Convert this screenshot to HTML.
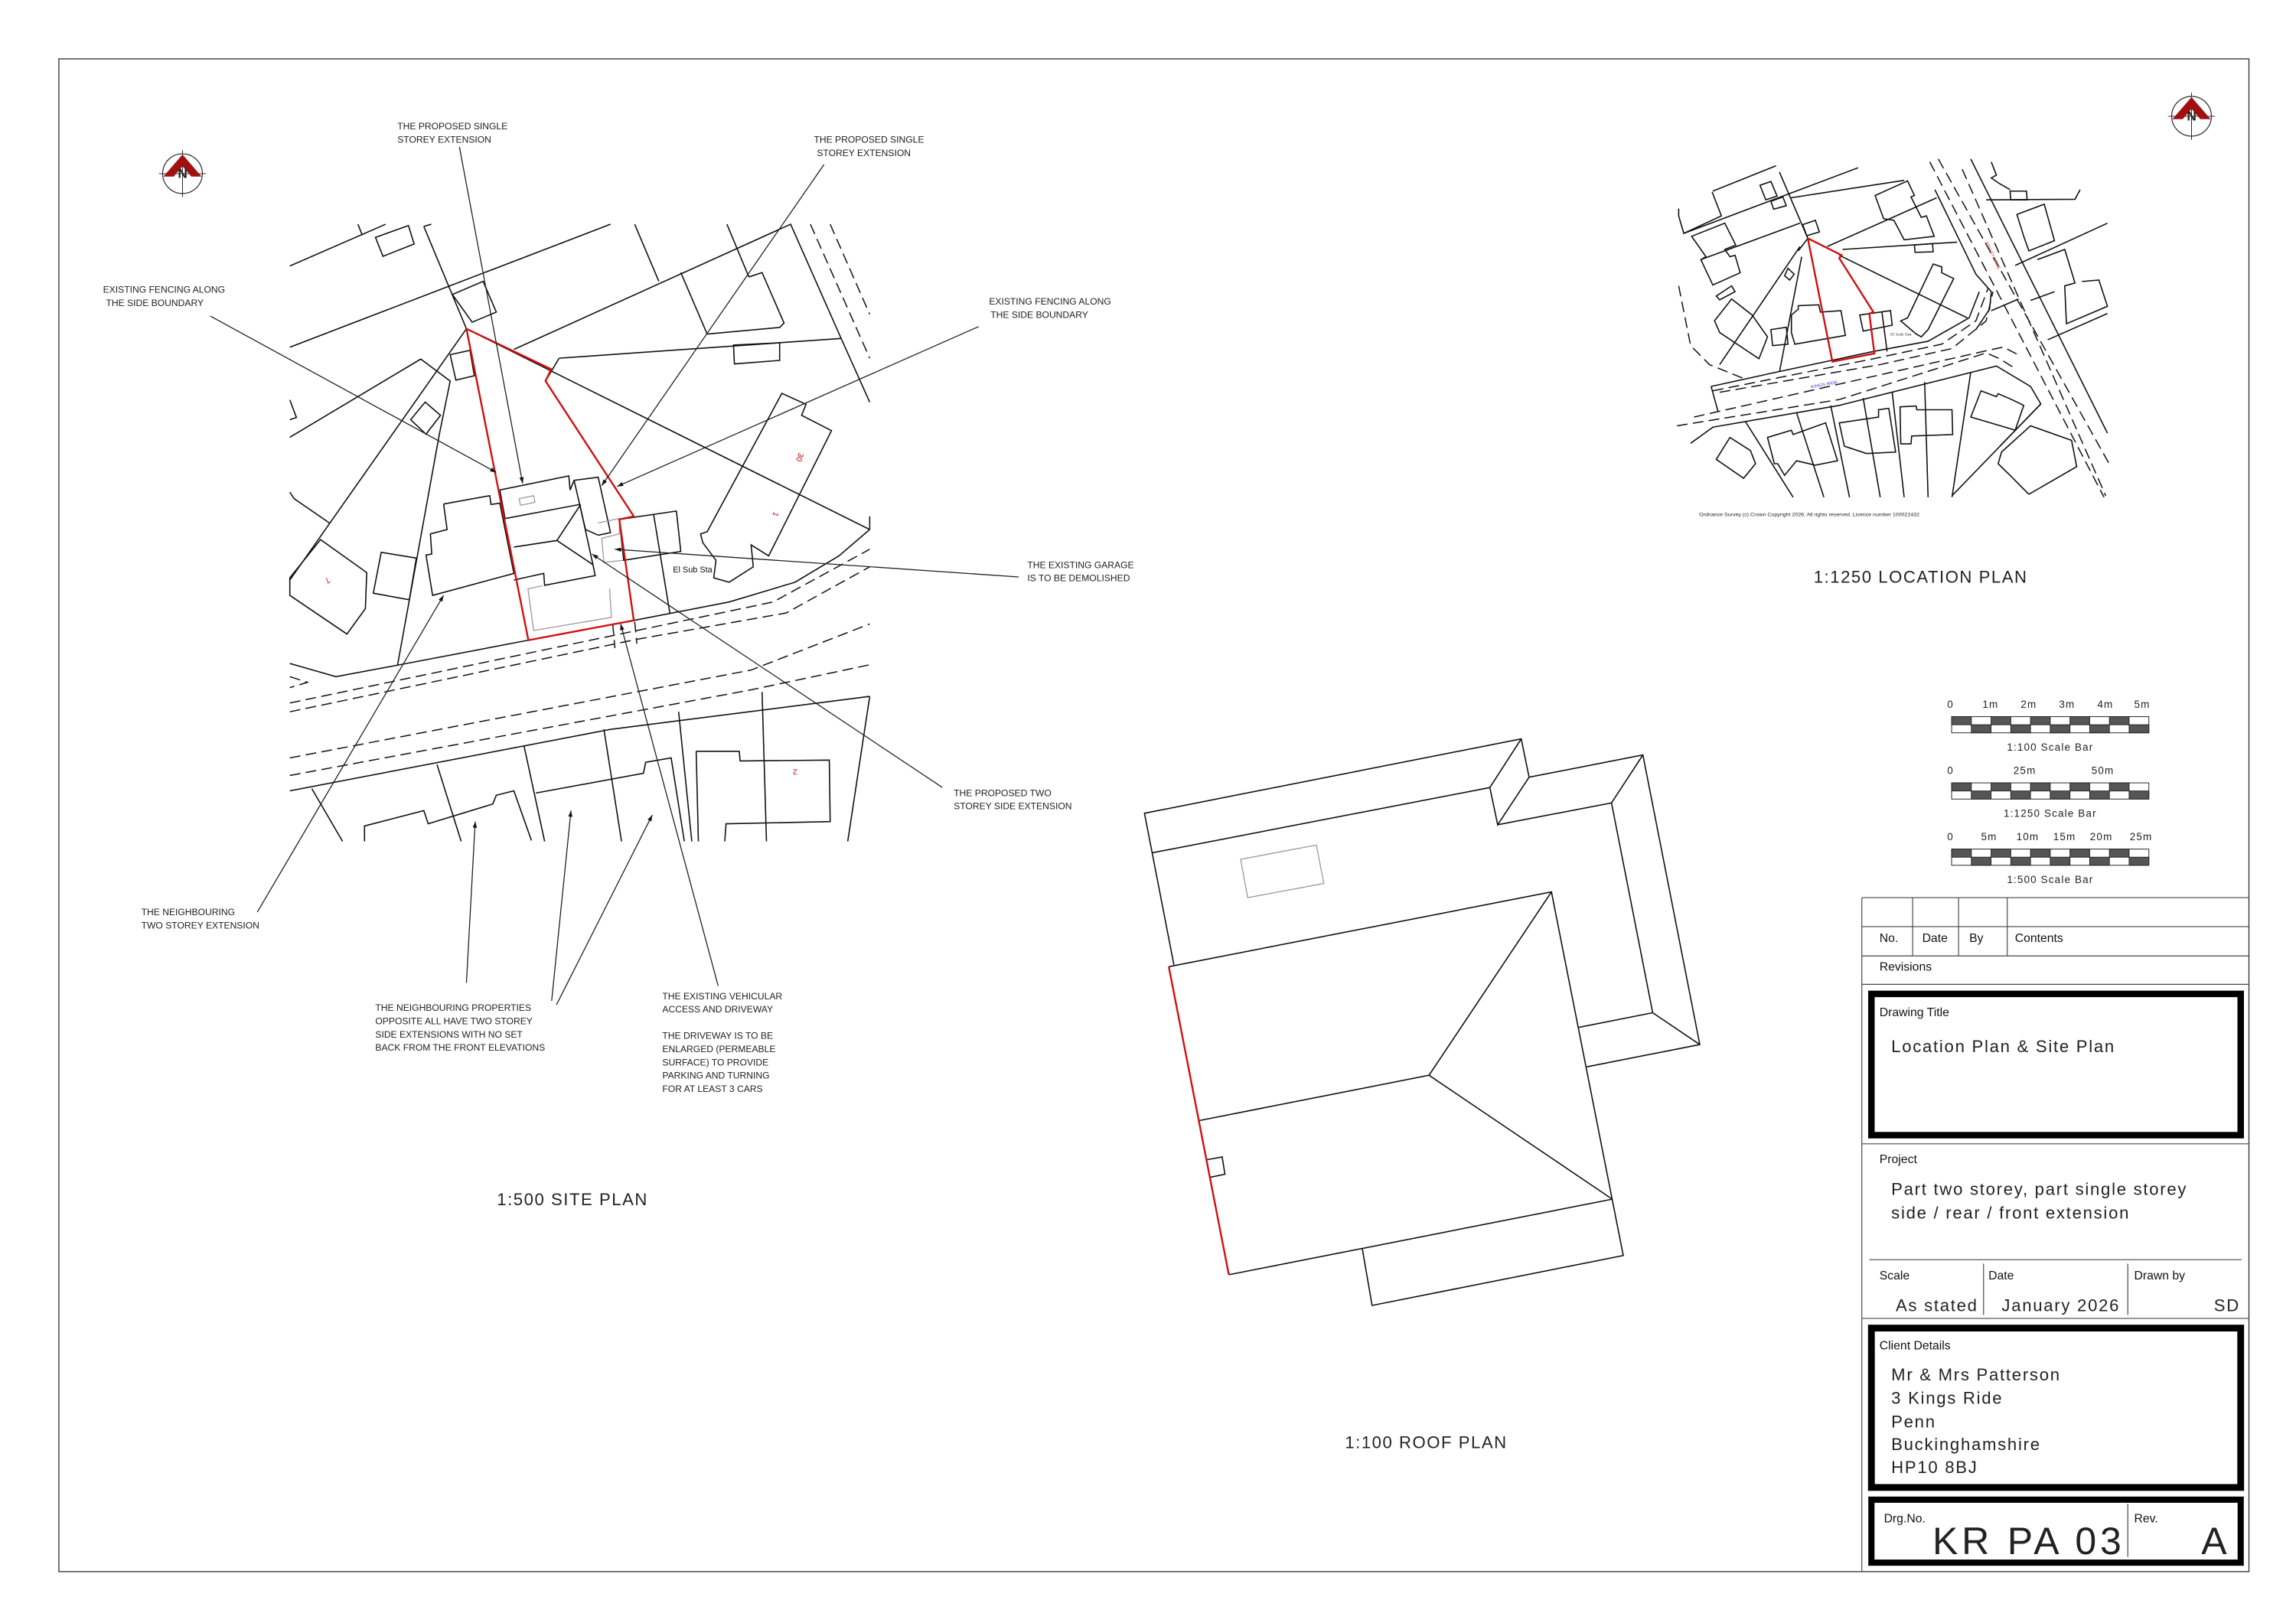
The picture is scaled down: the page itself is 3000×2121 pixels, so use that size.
<!DOCTYPE html>
<html><head><meta charset="utf-8"><style>
html,body{margin:0;padding:0;background:#fff;}
svg{display:block;}
.l{fill:none;stroke:#111;stroke-width:1.6;vector-effect:non-scaling-stroke;}
.t{fill:none;stroke:#222;stroke-width:1.3;vector-effect:non-scaling-stroke;}
.r{fill:none;stroke:#d01010;stroke-width:2.4;vector-effect:non-scaling-stroke;}
.d{fill:none;stroke:#111;stroke-width:1.5;stroke-dasharray:14 7;vector-effect:non-scaling-stroke;}
.g{fill:none;stroke:#999;stroke-width:1.3;vector-effect:non-scaling-stroke;}
.lab{font-family:"Liberation Sans",sans-serif;font-size:6.3px;fill:#222;}
.cad{font-family:"Liberation Sans",sans-serif;fill:#222;font-weight:normal;}
.hd{font-family:"Liberation Sans",sans-serif;font-size:8.2px;fill:#111;}
</style></head><body>
<svg width="3000" height="2121" viewBox="0 0 3000 2121" xmlns="http://www.w3.org/2000/svg">
<defs><marker id="a" viewBox="0 0 10 10" refX="10" refY="5" markerWidth="14" markerHeight="14" markerUnits="userSpaceOnUse" orient="auto"><path d="M0,1.5 L10,5 L0,8.5 z" fill="#111"/></marker></defs>
<rect width="3000" height="2121" fill="#fff"/>

<!-- SITE PLAN in zoom coords -->
<g transform="translate(350,250) scale(0.574)">
<polyline class="l" points="50,170 268,75"/>
<polygon class="l" points="245,105 320,78 333,120 262,148"/>
<polyline class="l" points="205,75 215,100"/>
<polyline class="l" points="50,355 780,75"/>
<polyline class="l" points="355,80 372,75"/>
<polyline class="l" points="355,80 452,313"/>
<polygon class="l" points="420,235 490,205 520,275 465,298"/>
<polyline class="l" points="560,360 1190,75 1305,335 1370,480"/>
<polyline class="l" points="835,75 890,205"/>
<polyline class="l" points="940,185 1000,325"/>
<polyline class="l" points="1045,75 1095,195"/>
<polyline class="l" points="1000,325 1165,310 1175,300 1125,185 1095,195"/>
<polyline class="l" points="663,380 1305,335"/>
<polyline class="l" points="632,432 663,380"/>
<polygon class="l" points="1060,350 1165,345 1165,385 1062,393"/>
<polyline class="d" points="1235,75 1370,380"/>
<polyline class="d" points="1280,75 1370,280"/>
<polyline class="l" points="400,712 505,693 508,713 528,710 560,870 375,920 360,828 373,826 370,780 408,770 400,712"/>
<polyline class="l" points="528,680 685,648 688,680 697,658 752,651 780,777 752,783"/>
<polyline class="l" points="528,680 540,745 710,713 740,850 745,875 630,897 628,870 560,885"/>
<polyline class="l" points="560,810 658,795 712,713"/>
<polyline class="l" points="658,795 740,850"/>
<polyline class="l" points="697,658 723,770 752,783"/>
<polygon class="g" points="572,700 605,693 608,708 575,715"/>
<polyline class="g" points="778,905 782,970 605,1000 592,905 625,898"/>
<polyline class="g" points="752,755 800,745 800,780 760,790 765,845 810,840"/>
<polygon class="l" points="258,822 338,835 322,930 240,915"/>
<polygon class="l" points="50,880 120,793 225,868 222,950 180,1008 50,920"/>
<polyline class="l" points="50,560 348,382 415,432 390,555 295,1080"/>
<polyline class="l" points="50,885 452,313"/>
<polygon class="l" points="415,372 460,362 470,420 428,430"/>
<polygon class="l" points="325,520 358,480 393,510 360,553"/>
<polyline class="l" points="50,685 60,700 140,755"/>
<polyline class="l" points="50,475 65,515 50,520"/>
<polygon class="l" points="1000,775 1170,460 1225,485 1215,510 1283,545 1140,830 1100,805 1105,855 1050,890 1015,880 1020,840 990,800 985,780"/>
<polygon class="l" points="800,747 930,728 940,820 810,840"/>
<polyline class="l" points="878,735 915,960"/>
<polyline class="l" points="452,313 1370,770"/>
<polyline class="l" points="1370,740 1370,770"/>
<polyline class="l" points="833,977 1050,935 1200,890 1300,830 1370,770"/>
<polyline class="l" points="593,1022 300,1078 155,1105 50,1075"/>
<polyline class="d" points="50,1105 90,1118 50,1130"/>
<polyline class="d" points="50,1165 840,1000 1150,935 1370,815"/>
<polyline class="d" points="50,1185 840,1020 1180,960 1370,855"/>
<polyline class="d" points="50,1290 1100,1090 1370,985"/>
<polyline class="d" points="50,1330 1100,1135 1370,1078"/>
<polyline class="d" points="785,985 790,1040"/>
<polyline class="d" points="835,980 840,1030"/>
<polyline class="l" points="50,1365 780,1225 1370,1150"/>
<polyline class="l" points="220,1480 220,1445 355,1410 365,1440 512,1395 520,1375 560,1365 600,1478"/>
<polyline class="l" points="610,1370 855,1325 860,1300 918,1290 948,1480"/>
<polyline class="l" points="975,1275 1073,1275 1075,1297 1278,1295 1280,1435 1043,1440 1040,1480"/>
<polyline class="l" points="975,1275 980,1480"/>
<polyline class="l" points="385,1305 440,1480"/>
<polyline class="l" points="583,1262 630,1480"/>
<polyline class="l" points="765,1225 805,1480"/>
<polyline class="l" points="935,1185 965,1480"/>
<polyline class="l" points="1125,1140 1135,1480"/>
<polyline class="l" points="1370,1150 1320,1480"/>
<polyline class="l" points="100,1360 170,1480"/>
<polyline class="r" points="452,313 645,405 632,432 833,740 800,747 833,977 593,1022 452,313"/>
<line class="t" x1="436" y1="-101" x2="580" y2="665" marker-end="url(#a)"/>
<line class="t" x1="1266" y1="-61" x2="760" y2="670" marker-end="url(#a)"/>
<line class="t" x1="-131" y1="284" x2="520" y2="640" marker-end="url(#a)"/>
<line class="t" x1="1618" y1="308" x2="795" y2="672" marker-end="url(#a)"/>
<line class="t" x1="1709" y1="878" x2="790" y2="815" marker-end="url(#a)"/>
<line class="t" x1="1535" y1="1357" x2="738" y2="826" marker-end="url(#a)"/>
<line class="t" x1="-24" y1="1641" x2="400" y2="920" marker-end="url(#a)"/>
<line class="t" x1="452" y1="1802" x2="472" y2="1435" marker-end="url(#a)"/>
<line class="t" x1="646" y1="1843" x2="690" y2="1410" marker-end="url(#a)"/>
<line class="t" x1="657" y1="1852" x2="875" y2="1420" marker-end="url(#a)"/>
<line class="t" x1="1025" y1="1809" x2="803" y2="985" marker-end="url(#a)"/>
<text x="922" y="868" font-family="Liberation Sans,sans-serif" font-size="19" fill="#111">El Sub Sta</text>
<text x="1200" y="610" font-family="Liberation Sans,sans-serif" font-size="18" fill="#c00" transform="rotate(110 1210 605)">30</text>
<text x="1150" y="740" font-family="Liberation Sans,sans-serif" font-size="18" fill="#c00" transform="rotate(110 1155 735)">1</text>
<text x="130" y="890" font-family="Liberation Sans,sans-serif" font-size="18" fill="#c00" transform="rotate(140 135 885)">7</text>
<text x="1195" y="1320" font-family="Liberation Sans,sans-serif" font-size="18" fill="#c00" transform="rotate(180 1200 1318)">2</text>
</g>

<!-- ROOF PLAN -->
<g transform="translate(1480,944) scale(0.5128,0.5013)">
<polyline class="l" points="105,632 30,237 990,43 1010,143 1300,85 1445,840 1157,898"/>
<polyline class="l" points="92,637 1067,442 1250,1390 610,1520 585,1372"/>
<polyline class="l" points="245,1440 1222,1243"/>
<polyline class="l" points="170,1038 755,920 1067,442"/>
<polyline class="l" points="755,920 1222,1243"/>
<polyline class="l" points="50,340 910,170 990,43"/>
<polyline class="l" points="910,170 930,267 1010,143"/>
<polyline class="l" points="930,267 1220,210 1300,85"/>
<polyline class="l" points="1220,210 1325,757 1445,840"/>
<polyline class="l" points="1325,757 1137,795"/>
<polygon class="g" points="275,357 468,320 487,420 293,457"/>
<polyline class="l" points="190,1140 228,1133 235,1178 197,1186"/>
<polyline class="r" points="92,637 245,1440"/>
</g>

<!-- LOCATION PLAN -->
<g transform="translate(2180,114.5) scale(0.4464,0.381)">
<polyline class="l" points="130,355 315,268"/>
<polyline class="l" points="128,358 155,440 45,500 30,440 30,415"/>
<polyline class="l" points="45,500 555,275"/>
<polyline class="l" points="325,290 408,517"/>
<polygon class="l" points="268,335 300,322 318,372 285,385"/>
<polygon class="l" points="300,390 335,375 345,405 308,417"/>
<polygon class="l" points="393,470 430,455 442,495 405,508"/>
<polygon class="l" points="68,510 165,465 197,540 165,555 180,580 195,575 210,635 130,677 95,590 110,580"/>
<polyline class="l" points="95,590 385,465"/>
<polyline class="l" points="358,378 690,318"/>
<polygon class="l" points="605,370 700,320 720,370 710,375 740,445 755,440 778,510 690,522 660,455 630,450"/>
<polyline class="l" points="465,545 785,378"/>
<polyline class="l" points="510,555 845,530"/>
<polygon class="l" points="720,540 773,535 775,563 722,565"/>
<polyline class="l" points="500,575 875,790"/>
<polyline class="l" points="385,545 150,950"/>
<polyline class="l" points="390,580 325,975"/>
<polyline class="l" points="408,517 380,560"/>
<polygon class="l" points="140,715 185,680 195,700 150,728"/>
<polygon class="l" points="135,800 185,725 245,780 290,855 265,930 150,840"/>
<polygon class="l" points="350,620 368,640 355,660 340,645"/>
<polygon class="l" points="300,830 345,822 350,880 305,885"/>
<polygon class="l" points="360,780 380,760 380,748 440,745 445,770 505,765 518,850 370,880 360,840"/>
<polygon class="l" points="560,780 650,765 655,815 570,835"/>
<polyline class="l" points="625,770 640,905"/>
<polygon class="l" points="700,790 775,605 800,615 800,635 835,655 760,830 740,855 725,845 680,800"/>
<polyline class="d" points="765,255 1275,1405"/>
<polyline class="d" points="790,245 1290,1290"/>
<polyline class="d" points="860,280 1280,1400"/>
<polyline class="l" points="885,245 1285,1185"/>
<polyline class="l" points="780,350 900,640 945,700 940,760 900,830"/>
<polyline class="l" points="125,1025 300,980 600,905 760,870 880,790 910,700"/>
<polyline class="d" points="130,1040 600,930 800,880 900,800 935,690"/>
<polyline class="d" points="150,1045 620,950 830,895 930,800 950,700"/>
<polyline class="d" points="25,1160 500,1070 930,910 970,930 1010,960"/>
<polyline class="d" points="75,1130 940,900 980,890 1030,920"/>
<polyline class="l" points="128,1165 500,1090 960,955 1060,1025 1090,1085 830,1400"/>
<polyline class="d" points="30,680 65,885 120,950 225,1000"/>
<polyline class="l" points="145,1110 125,1025"/>
<polygon class="l" points="290,1200 360,1175 365,1190 460,1150 495,1280 430,1295 375,1280 340,1330 320,1290 310,1290"/>
<polygon class="l" points="500,1150 615,1130 615,1105 645,1100 665,1250 580,1255 515,1230"/>
<polygon class="l" points="678,1095 725,1092 727,1105 830,1105 832,1190 712,1195 710,1222 680,1222"/>
<polygon class="l" points="885,1130 915,1040 960,1060 965,1050 1005,1070 1040,1090 1015,1175"/>
<polygon class="l" points="140,1275 180,1200 240,1245 255,1290 220,1340"/>
<polyline class="l" points="225,1145 365,1405"/>
<polyline class="l" points="375,1115 455,1405"/>
<polyline class="l" points="475,1090 530,1405"/>
<polyline class="l" points="570,1065 620,1405"/>
<polyline class="l" points="655,1045 690,1405"/>
<polyline class="l" points="750,1010 760,1405"/>
<polyline class="l" points="885,975 830,1405"/>
<polyline class="l" points="1090,1085 970,1230"/>
<polygon class="l" points="1020,435 1100,400 1130,525 1055,560 1040,510"/>
<polyline class="l" points="1080,590 1160,555 1190,670 1160,680 1165,810 1285,750 1260,660 1210,665"/>
<polyline class="l" points="930,385 1190,383 1205,350"/>
<polyline class="l" points="945,255 960,300 945,310 970,330 1000,350"/>
<polygon class="l" points="1000,355 1048,355 1050,385 1002,385"/>
<polyline class="l" points="1015,610 1285,465"/>
<polyline class="l" points="945,765 1025,725"/>
<polyline class="l" points="1060,730 1130,700"/>
<polyline class="l" points="1110,865 1285,775"/>
<polyline class="l" points="1055,1395 1195,1300 1180,1210 1060,1160 975,1250 965,1290 1000,1330 1055,1395"/>
<polyline class="l" points="65,1220 130,1165"/>
<polyline class="r" points="408,517 507,575 500,585 600,770 588,775 603,912 480,940 408,517"/>
<text x="415" y="1025" font-family="Liberation Sans,sans-serif" font-size="14" fill="#33c" transform="rotate(-12 445 1015)">KINGS RIDE</text>
<text x="920" y="540" font-family="Liberation Sans,sans-serif" font-size="14" fill="#c33" transform="rotate(68 930 540)">ASHLEY DRIVE</text>
<text x="650" y="850" font-family="Liberation Sans,sans-serif" font-size="13" fill="#333">El Sub Sta</text>
<text x="90" y="1470" font-family="Liberation Sans,sans-serif" font-size="17" fill="#222" textLength="645" lengthAdjust="spacingAndGlyphs">Ordnance Survey (c) Crown Copyright 2026. All rights reserved. Licence number 100022432</text>
</g>

<g transform="scale(1.9231)">
<rect x="40" y="40" width="1488" height="1028" fill="none" stroke="#333" stroke-width="0.7"/>

<g transform="translate(124,118)">
<circle r="13.5" fill="none" stroke="#222" stroke-width="0.6"/>
<line x1="-16" y1="0" x2="16" y2="0" stroke="#222" stroke-width="0.5"/>
<line x1="0" y1="-16" x2="0" y2="16" stroke="#222" stroke-width="0.5"/>
<path d="M-13,2 L0,-13 L13,2 L6,2 L0,-5 L-6,2 z" fill="#a01010"/>
<text x="-3.2" y="3" font-family="Liberation Sans,sans-serif" font-weight="bold" font-size="9" fill="#222">N</text>
</g>
<g transform="translate(1489,79)">
<circle r="13.5" fill="none" stroke="#222" stroke-width="0.6"/>
<line x1="-16" y1="0" x2="16" y2="0" stroke="#222" stroke-width="0.5"/>
<line x1="0" y1="-16" x2="0" y2="16" stroke="#222" stroke-width="0.5"/>
<path d="M-13,2 L0,-13 L13,2 L6,2 L0,-5 L-6,2 z" fill="#a01010"/>
<text x="-3.2" y="3" font-family="Liberation Sans,sans-serif" font-weight="bold" font-size="9" fill="#222">N</text>
</g>

<g class="lab">
<text x="270" y="88">THE PROPOSED SINGLE</text><text x="270" y="97">STOREY EXTENSION</text>
<text x="553" y="97">THE PROPOSED SINGLE</text><text x="555" y="106">STOREY EXTENSION</text>
<text x="70" y="199">EXISTING FENCING ALONG</text><text x="72" y="208">THE SIDE BOUNDARY</text>
<text x="672" y="207">EXISTING FENCING ALONG</text><text x="673" y="216">THE SIDE BOUNDARY</text>
<text x="698" y="386">THE EXISTING GARAGE</text><text x="698" y="395">IS TO BE DEMOLISHED</text>
<text x="648" y="541">THE PROPOSED TWO</text><text x="648" y="550">STOREY SIDE EXTENSION</text>
<text x="96" y="622">THE NEIGHBOURING</text><text x="96" y="631">TWO STOREY EXTENSION</text>
<text x="255" y="687">THE NEIGHBOURING PROPERTIES</text><text x="255" y="696">OPPOSITE ALL HAVE TWO STOREY</text>
<text x="255" y="705">SIDE EXTENSIONS WITH NO SET</text><text x="255" y="714">BACK FROM THE FRONT ELEVATIONS</text>
<text x="450" y="679">THE EXISTING VEHICULAR</text><text x="450" y="688">ACCESS AND DRIVEWAY</text>
<text x="450" y="706">THE DRIVEWAY IS TO BE</text><text x="450" y="715">ENLARGED (PERMEABLE</text>
<text x="450" y="724">SURFACE) TO PROVIDE</text><text x="450" y="733">PARKING AND TURNING</text>
<text x="450" y="742">FOR AT LEAST 3 CARS</text>
</g>
<text class="cad" x="389" y="819" font-size="11.5" text-anchor="middle" letter-spacing="0.8">1:500 SITE PLAN</text>
<text class="cad" x="969" y="984" font-size="11.5" text-anchor="middle" letter-spacing="0.8">1:100 ROOF PLAN</text>
<text class="cad" x="1305" y="396" font-size="11.5" text-anchor="middle" letter-spacing="0.8">1:1250 LOCATION PLAN</text>

<g class="cad" font-size="7" letter-spacing="0.6">
<text x="1323" y="481">0</text><text x="1347" y="481">1m</text><text x="1373" y="481">2m</text><text x="1399" y="481">3m</text><text x="1425" y="481">4m</text><text x="1450" y="481">5m</text>
<text x="1393" y="510" text-anchor="middle">1:100 Scale Bar</text>
<text x="1323" y="526">0</text><text x="1368" y="526">25m</text><text x="1421" y="526">50m</text>
<text x="1393" y="555" text-anchor="middle">1:1250 Scale Bar</text>
<text x="1323" y="571">0</text><text x="1346" y="571">5m</text><text x="1370" y="571">10m</text><text x="1395" y="571">15m</text><text x="1420" y="571">20m</text><text x="1447" y="571">25m</text>
<text x="1393" y="600" text-anchor="middle">1:500 Scale Bar</text>
</g>
<g stroke="#222" stroke-width="0.5">
<g transform="translate(1326,487)">
<rect width="134" height="11" fill="#fff"/>
<rect x="0" width="13.4" height="5.5" fill="#555"/><rect x="26.8" width="13.4" height="5.5" fill="#555"/><rect x="53.6" width="13.4" height="5.5" fill="#555"/><rect x="80.4" width="13.4" height="5.5" fill="#555"/><rect x="107.2" width="13.4" height="5.5" fill="#555"/>
<rect x="13.4" y="5.5" width="13.4" height="5.5" fill="#555"/><rect x="40.2" y="5.5" width="13.4" height="5.5" fill="#555"/><rect x="67" y="5.5" width="13.4" height="5.5" fill="#555"/><rect x="93.8" y="5.5" width="13.4" height="5.5" fill="#555"/><rect x="120.6" y="5.5" width="13.4" height="5.5" fill="#555"/>
</g>
<g transform="translate(1326,532)">
<rect width="134" height="11" fill="#fff"/>
<rect x="0" width="13.4" height="5.5" fill="#555"/><rect x="26.8" width="13.4" height="5.5" fill="#555"/><rect x="53.6" width="13.4" height="5.5" fill="#555"/><rect x="80.4" width="13.4" height="5.5" fill="#555"/><rect x="107.2" width="13.4" height="5.5" fill="#555"/>
<rect x="13.4" y="5.5" width="13.4" height="5.5" fill="#555"/><rect x="40.2" y="5.5" width="13.4" height="5.5" fill="#555"/><rect x="67" y="5.5" width="13.4" height="5.5" fill="#555"/><rect x="93.8" y="5.5" width="13.4" height="5.5" fill="#555"/><rect x="120.6" y="5.5" width="13.4" height="5.5" fill="#555"/>
</g>
<g transform="translate(1326,577)">
<rect width="134" height="11" fill="#fff"/>
<rect x="0" width="13.4" height="5.5" fill="#555"/><rect x="26.8" width="13.4" height="5.5" fill="#555"/><rect x="53.6" width="13.4" height="5.5" fill="#555"/><rect x="80.4" width="13.4" height="5.5" fill="#555"/><rect x="107.2" width="13.4" height="5.5" fill="#555"/>
<rect x="13.4" y="5.5" width="13.4" height="5.5" fill="#555"/><rect x="40.2" y="5.5" width="13.4" height="5.5" fill="#555"/><rect x="67" y="5.5" width="13.4" height="5.5" fill="#555"/><rect x="93.8" y="5.5" width="13.4" height="5.5" fill="#555"/><rect x="120.6" y="5.5" width="13.4" height="5.5" fill="#555"/>
</g>
</g>

<g stroke="#444" stroke-width="0.6" fill="none">
<line x1="1265" y1="610" x2="1265" y2="1068"/>
<line x1="1265" y1="610" x2="1528" y2="610"/>
<line x1="1265" y1="629.7" x2="1528" y2="629.7"/>
<line x1="1265" y1="649.6" x2="1528" y2="649.6"/>
<line x1="1265" y1="668.9" x2="1528" y2="668.9"/>
<line x1="1299.5" y1="610" x2="1299.5" y2="649.6"/>
<line x1="1330.7" y1="610" x2="1330.7" y2="649.6"/>
<line x1="1363.8" y1="610" x2="1363.8" y2="649.6"/>
<line x1="1265" y1="777.3" x2="1528" y2="777.3"/>
<line x1="1270" y1="856" x2="1523" y2="856"/>
<line x1="1347.7" y1="858.7" x2="1347.7" y2="893.6"/>
<line x1="1445.7" y1="858.7" x2="1445.7" y2="893.6"/>
<line x1="1265" y1="895.9" x2="1528" y2="895.9"/>
<line x1="1445.7" y1="1022" x2="1445.7" y2="1058"/>
</g>
<g fill="none" stroke="#000">
<rect x="1271.5" y="675.4" width="250.9" height="96" stroke-width="4.4"/>
<rect x="1271.5" y="902.5" width="250.9" height="108.3" stroke-width="4.6"/>
<rect x="1271.5" y="1019.1" width="250.9" height="42.8" stroke-width="4.2"/>
</g>
<g class="hd">
<text x="1277" y="640">No.</text><text x="1306" y="640">Date</text><text x="1338" y="640">By</text><text x="1369" y="640">Contents</text>
<text x="1277" y="659.5">Revisions</text>
<text x="1277" y="690.5">Drawing Title</text>
<text x="1277" y="790.5">Project</text>
<text x="1277" y="869.5">Scale</text><text x="1351" y="869.5">Date</text><text x="1450" y="869.5">Drawn by</text>
<text x="1277" y="917">Client Details</text>
<text x="1280" y="1034.5">Drg.No.</text><text x="1450" y="1034.5">Rev.</text>
</g>
<g class="cad" font-size="11.5" letter-spacing="0.9">
<text x="1285" y="715">Location Plan &amp; Site Plan</text>
<text x="1285" y="812">Part two storey, part single storey</text>
<text x="1285" y="828">side / rear / front extension</text>
<text x="1288" y="891">As stated</text>
<text x="1360" y="891">January 2026</text>
<text x="1522" y="891" text-anchor="end">SD</text>
<text x="1285" y="938">Mr &amp; Mrs Patterson</text>
<text x="1285" y="954">3 Kings Ride</text>
<text x="1285" y="970">Penn</text>
<text x="1285" y="985.5">Buckinghamshire</text>
<text x="1285" y="1001">HP10 8BJ</text>
</g>
<text class="cad" x="1313" y="1056" font-size="26" letter-spacing="2.5">KR PA 03</text>
<text class="cad" x="1513" y="1056" font-size="26" text-anchor="end">A</text>
</g>
</svg>
</body></html>
